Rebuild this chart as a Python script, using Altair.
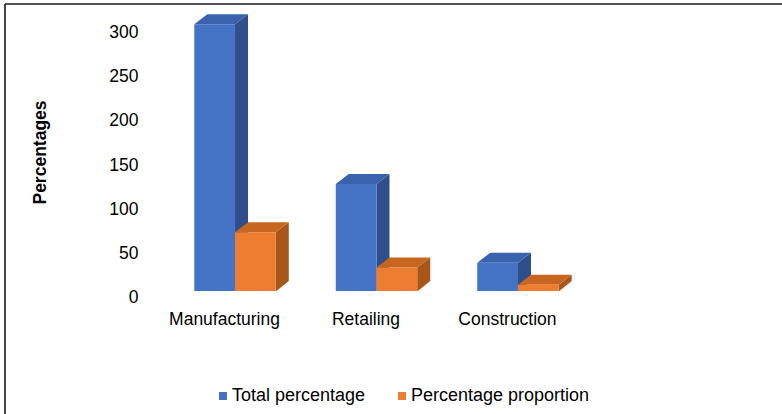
import altair as alt
import pandas as pd

industries = ["Manufacturing", "Retailing", "Construction"]
series = ["Total percentage", "Percentage proportion"]
total_percentage = [302, 121, 32]
percentage_proportion = [66.4, 26.6, 7.0]
y_ticks = [0, 50, 100, 150, 200, 250, 300]

front_colors = ["#4472C4", "#ED7D31"]
top_colors = ["#3A62AD", "#C8651F"]
side_colors = ["#2E4F8C", "#A9561B"]

rows = []
for i, ind in enumerate(industries):
    rows.append({"industry": ind, "series": series[0], "value": total_percentage[i]})
    rows.append({"industry": ind, "series": series[1], "value": percentage_proportion[i]})
df = pd.DataFrame(rows)

W, H = 453, 283
PI, PO = 0.424, 0.313
step = W / (3 - PI + 2 * PO)
bw = step * (1 - PI) / 2
DX, DY = 13, 10
FS = 17.5
FONT = "Liberation Sans"

x_enc = alt.X(
    "industry:N", sort=industries,
    scale=alt.Scale(paddingInner=PI, paddingOuter=PO),
    axis=alt.Axis(title="Industries", labelAngle=0, labelFontSize=FS, labelFont=FONT,
                  labelColor="#000", labelPadding=19, labelOffset=-10.5, ticks=False,
                  domain=False, titleFontSize=FS, titleFont=FONT, titleFontWeight="bold",
                  titleColor="#000", titleX=223, titleY=347, titleBaseline="alphabetic"),
)
xo_enc = alt.XOffset("series:N", sort=series, scale=alt.Scale(paddingInner=0, paddingOuter=0))
y_scale = alt.Scale(domain=[0, 320.4], nice=False, zero=True)
y_enc = alt.Y(
    "value:Q", scale=y_scale,
    axis=alt.Axis(title="Percentages", values=y_ticks, labelFontSize=FS, labelFont=FONT,
                  labelColor="#000", labelPadding=12, labelOffset=6.5, ticks=False,
                  domain=False, grid=False, titleFontSize=FS, titleFont=FONT,
                  titleFontWeight="bold", titleColor="#000", titleX=-110, titleY=144,
                  titleAngle=270, titleAlign="center", titleBaseline="middle"),
)

base = alt.Chart(df)


def only(k):
    return alt.datum.series == series[k]


r = bw / 2
side_path = f"M {r:.2f} 0 L {r+DX:.2f} {-DY} L {r+DX:.2f} 420 L {r:.2f} 420 Z"
cut_path = f"M {r:.2f} 0.5 L {r+DX+1:.2f} {-DY-0.8} L {r+DX+1:.2f} 1 L {r:.2f} 1 Z"
top_path = (f"M {-r:.2f} 0 L {r:.2f} 0 L {r+DX:.2f} {-DY} "
            f"L {-r+DX:.2f} {-DY} Z")

layers = []
# side faces (extended down, clipped at the floor)
for k in range(2):
    layers.append(
        base.transform_filter(only(k))
        .mark_point(shape=side_path, size=4, filled=True, opacity=1, strokeWidth=0,
                    color=side_colors[k], clip=True)
        .encode(x=x_enc, xOffset=xo_enc, y=y_enc)
    )
# cut the bottom of side faces diagonally
for k in range(2):
    layers.append(
        base.transform_filter(only(k))
        .mark_point(shape=cut_path, size=4, filled=True, opacity=1, strokeWidth=0,
                    color="white", clip=True)
        .encode(x=x_enc, xOffset=xo_enc, y=alt.Y(datum=0, scale=y_scale))
    )
# top faces
for k in range(2):
    layers.append(
        base.transform_filter(only(k))
        .mark_point(shape=top_path, size=4, filled=True, opacity=1, strokeWidth=0,
                    color=top_colors[k])
        .encode(x=x_enc, xOffset=xo_enc, y=y_enc)
    )
# front faces
layers.append(
    base.mark_bar().encode(
        x=x_enc, xOffset=xo_enc, y=y_enc,
        color=alt.Color("series:N", sort=series,
                        scale=alt.Scale(domain=series, range=front_colors),
                        legend=alt.Legend(title=None, orient="none", legendX=64, legendY=379,
                                          direction="horizontal", symbolType="square",
                                          symbolSize=64, symbolStrokeWidth=0,
                                          labelFontSize=18, labelFont=FONT, labelColor="#000",
                                          labelOffset=0, labelLimit=400, columnPadding=27)),
    )
)

frame = pd.DataFrame({"a": [0]})
border_top = alt.Chart(frame).mark_rule(color="#1a1a1a", strokeWidth=1.6).encode(
    x=alt.value(-145), x2=alt.value(632), y=alt.value(-4))
border_left = alt.Chart(frame).mark_rule(color="#1a1a1a", strokeWidth=1.6).encode(
    x=alt.value(-145), y=alt.value(-4), y2=alt.value(406))
layers += [border_top, border_left]

chart = (
    alt.layer(*layers)
    .properties(width=W, height=H, background="white",
                padding={"left": 150, "top": 8, "right": 179, "bottom": 123},
                autosize=alt.AutoSizeParams(type="none"))
    .configure_view(strokeWidth=0)
)

chart.save("out.html", embed_options={"renderer": "svg", "actions": False})
